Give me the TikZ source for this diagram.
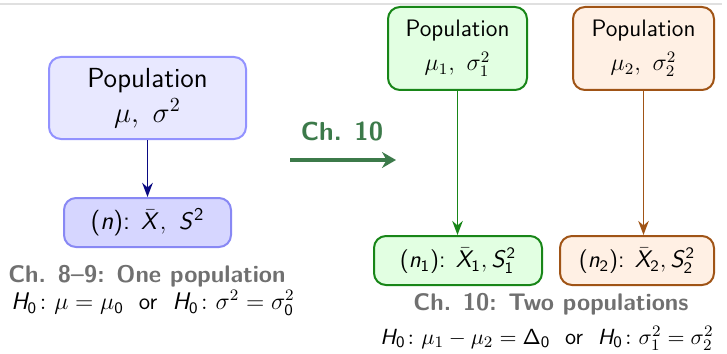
\documentclass[tikz,border=0pt]{standalone}
\usepackage{amsmath,amssymb}
\usetikzlibrary{arrows.meta}
\definecolor{popblue}{RGB}{232,232,255}
\definecolor{popblueline}{RGB}{146,146,255}
\definecolor{smpblue}{RGB}{214,214,255}
\definecolor{smpblueline}{RGB}{136,136,244}
\definecolor{inknavy}{RGB}{10,10,130}
\definecolor{popgreen}{RGB}{226,255,226}
\definecolor{inkgreen}{RGB}{24,134,24}
\definecolor{poporange}{RGB}{255,240,228}
\definecolor{inkbrown}{RGB}{160,84,22}
\definecolor{chgreen}{RGB}{60,122,74}
\definecolor{capgray}{RGB}{112,112,112}
\DeclareMathAlphabet{\mathsfit}{OT1}{cmss}{m}{sl}
\newcommand{\sz}{\mathsf{0}}

\begin{document}
\begin{tikzpicture}[x=0.5pt,y=-0.5pt,>=Stealth,
 box/.style={draw,rounded corners=6pt,line width=1pt,inner sep=0pt,align=center,font=\sffamily},
 chcap/.style={font=\sffamily\bfseries\fontsize{12}{14}\selectfont,text=capgray,inner sep=0pt},
 hyp/.style={font=\sffamily\fontsize{11.6}{13}\selectfont,inner sep=0pt}]
\useasboundingbox (0,0) rectangle (727,353);
\draw[black!12,line width=1.2pt] (0,4)--(722,4);
% one population
\node[box,fill=popblue,draw=popblueline,minimum width=98.5pt,minimum height=41pt,
 font=\sffamily\fontsize{13.8}{17.5}\selectfont] (pop) at (147.5,98) {Population\\$\mu,\ \sigma^2$};
\node[box,fill=smpblue,draw=smpblueline,minimum width=83.5pt,minimum height=24.5pt,
 font=\sffamily\fontsize{12.8}{15}\selectfont] (smp) at (147.5,222.5)
 {(\textit{n}): $\bar{\mathsfit{X}},\ \mathsfit{S}^{\mathsf{2}}$};
\draw[->,inknavy,line width=0.9pt] (pop)--(smp);
\node[chcap] (cap1) at (147,276) {Ch. 8--9: One population};
\node[hyp] (hyp1) at (153,303) {$\mathsfit{H}_{\sz}\colon \mu=\mu_{\sz}$\ \ or\ \ $\mathsfit{H}_{\sz}\colon \sigma^2=\sigma_{\sz}^2$};
% chapter arrow
\coordinate (chs) at (290,160);
\coordinate (che) at (396,160);
\draw[-{Stealth[length=7pt,width=8pt]},chgreen,line width=1.9pt] (chs)--(che);
\node[font=\sffamily\bfseries\fontsize{13}{15}\selectfont,text=chgreen] (chl) at (342,131) {Ch. 10};
% two populations
\node[box,fill=popgreen,draw=inkgreen,minimum width=69.5pt,minimum height=41.5pt,
 font=\sffamily\fontsize{11.9}{17}\selectfont] (popa) at (457.5,48.5) {Population\\$\mu_1,\ \sigma_1^2$};
\node[box,fill=poporange,draw=inkbrown,minimum width=70.5pt,minimum height=41.5pt,
 font=\sffamily\fontsize{11.9}{17}\selectfont] (popb) at (643.5,48.5) {Population\\$\mu_2,\ \sigma_2^2$};
\node[box,fill=popgreen,draw=inkgreen,minimum width=84pt,minimum height=24.5pt,
 font=\sffamily\fontsize{11.8}{14}\selectfont] (smpa) at (458,260.5)
 {(\textit{n}$_{\mathsf{1}}$): $\bar{\mathsfit{X}}_{\mathsf{1}}, \mathsfit{S}_{\mathsf{1}}^{\mathsf{2}}$};
\node[box,fill=poporange,draw=inkbrown,minimum width=77pt,minimum height=24.5pt,
 font=\sffamily\fontsize{11.8}{14}\selectfont] (smpb) at (637,260.5)
 {(\textit{n}$_{\mathsf{2}}$): $\bar{\mathsfit{X}}_{\mathsf{2}}, \mathsfit{S}_{\mathsf{2}}^{\mathsf{2}}$};
\draw[->,inkgreen,line width=0.9pt] (popa)--(popa|-smpa.north);
\draw[->,inkbrown,line width=0.9pt] (popb)--(popb|-smpb.north);
\node[chcap] (cap2) at (551,304) {Ch. 10: Two populations};
\node[hyp,font=\sffamily\fontsize{11.3}{13}\selectfont] (hyp2) at (547,338) {$\mathsfit{H}_{\sz}\colon \mu_1-\mu_2=\mathsf{\Delta}_{\sz}$\ \ or\ \ $\mathsfit{H}_{\sz}\colon \sigma_1^2=\sigma_2^2$};
\end{tikzpicture}
\end{document}
